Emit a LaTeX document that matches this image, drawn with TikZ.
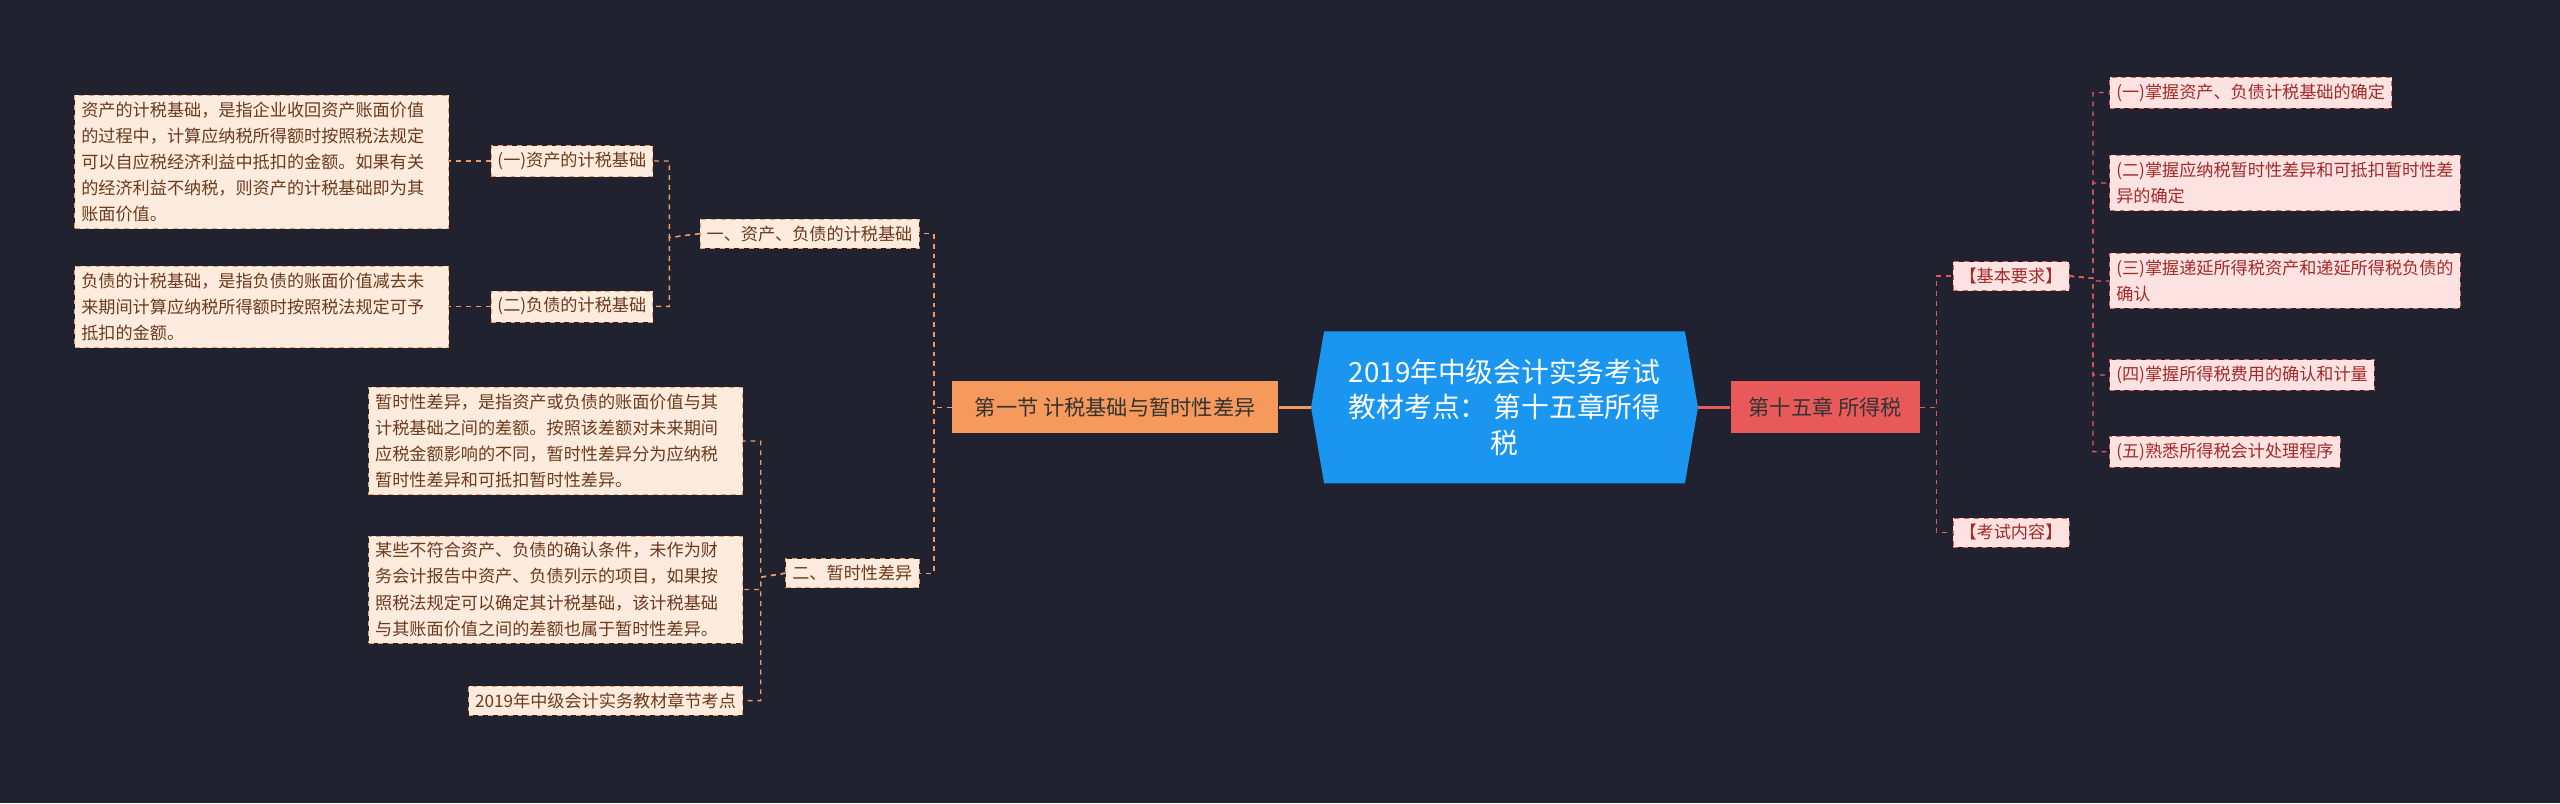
\documentclass[tikz,border=0pt]{standalone}
\usepackage{fontspec}
\setmainfont{Noto Sans CJK SC}
\begin{document}
\begin{tikzpicture}[x=1pt,y=-1pt,
 leaf/.style={draw=#1,dashed,fill=leaffill,text=leaftext,inner sep=4pt,anchor=north west,align=left,font=\fontsize{10.5}{16}\selectfont},
 rleaf/.style={draw=redline,dashed,fill=rfill,text=rtext,inner sep=4pt,anchor=north west,align=left,font=\fontsize{10.5}{16}\selectfont},
 oline/.style={draw=orangeline,dashed,line width=0.8pt},
 rline/.style={draw=redline,dashed,line width=0.8pt}]
\definecolor{bg}{HTML}{20232F}
\definecolor{leaffill}{HTML}{FDEBDD}
\definecolor{leaftext}{HTML}{6B3A1E}
\definecolor{orangeline}{HTML}{F59A5C}
\definecolor{redline}{HTML}{E85A5A}
\definecolor{rfill}{HTML}{FDE2E2}
\definecolor{rtext}{HTML}{A32A2A}
\fill[bg] (0,0) rectangle (1568,492);
\useasboundingbox (0,0) rectangle (1568,492);
% center
\fill[draw=none,fill={rgb,255:red,26;green,150;blue,240}] (803,249.5) -- (811,203) -- (1032,203) -- (1040,249.5) -- (1032,296) -- (811,296) -- cycle;
\node[text=white,align=center,font=\fontsize{17}{22}\selectfont] (c) at (921.5,249.5) {2019年中级会计实务考试\\教材考点： 第十五章所得\\税};
\coordinate (cl) at (803,249.5); \coordinate (cr) at (1040,249.5);
% main branches
\node[fill=orangeline,text=black!80,minimum width=200pt,minimum height=32pt,inner sep=2pt,font=\fontsize{13}{16}\selectfont] (L) at (683,249.5) {第一节 计税基础与暂时性差异};
\node[fill=redline,text=black!80,minimum width=116pt,minimum height=32pt,inner sep=2pt,font=\fontsize{13}{16}\selectfont] (R) at (1118,249.5) {第十五章 所得税};
\draw[draw=orangeline,line width=1.6pt] (cl) -- (L.east);
\draw[draw=redline,line width=1.6pt] (cr) -- (R.west);
% right side
\node[rleaf] (k1) at (1196,160) {【基本要求】};
\node[rleaf] (k2) at (1196,317) {【考试内容】};
\foreach \n in {k1,k2} \draw[rline] (R.east) -- (1186,249.5) |- (\n.west);
\node[rleaf] (r1) at (1292,47) {(一)掌握资产、负债计税基础的确定};
\node[rleaf] (r2) at (1292,95) {(二)掌握应纳税暂时性差异和可抵扣暂时性差\\异的确定};
\node[rleaf] (r3) at (1292,155) {(三)掌握递延所得税资产和递延所得税负债的\\确认};
\node[rleaf] (r4) at (1292,220) {(四)掌握所得税费用的确认和计量};
\node[rleaf] (r5) at (1292,267) {(五)熟悉所得税会计处理程序};
\foreach \n in {r1,r2,r3,r4,r5} \draw[rline] (k1.east) -- (1282,170.5) |- (\n.west);
% left side
\node[leaf=orangeline,anchor=north east] (a) at (563,134) {一、资产、负债的计税基础};
\node[leaf=orangeline,anchor=north east] (b) at (563,342) {二、暂时性差异};
\foreach \n in {a,b} \draw[oline] (L.west) -- (572,249.5) |- (\n.east);
\node[leaf=orangeline,anchor=north east] (a1) at (400,89) {(一)资产的计税基础};
\node[leaf=orangeline,anchor=north east] (a2) at (400,178) {(二)负债的计税基础};
\foreach \n in {a1,a2} \draw[oline] (a.west) -- (410,145.5) |- (\n.east);
\node[leaf=orangeline,anchor=north east,text width=221pt] (a1t) at (275,58) {资产的计税基础，是指企业收回资产账面价值\\的过程中，计算应纳税所得额时按照税法规定\\可以自应税经济利益中抵扣的金额。如果有关\\的经济利益不纳税，则资产的计税基础即为其\\账面价值。};
\node[leaf=orangeline,anchor=north east,text width=221pt] (a2t) at (275,163) {负债的计税基础，是指负债的账面价值减去未\\来期间计算应纳税所得额时按照税法规定可予\\抵扣的金额。};
\draw[oline] (a1.west) -- (a1t.east |- a1.west);
\draw[oline] (a2.west) -- (a2t.east |- a2.west);
\node[leaf=orangeline,anchor=north east,text width=221pt] (b1) at (455,237) {暂时性差异，是指资产或负债的账面价值与其\\计税基础之间的差额。按照该差额对未来期间\\应税金额影响的不同，暂时性差异分为应纳税\\暂时性差异和可抵扣暂时性差异。};
\node[leaf=orangeline,anchor=north east,text width=221pt] (b2) at (455,328) {某些不符合资产、负债的确认条件，未作为财\\务会计报告中资产、负债列示的项目，如果按\\照税法规定可以确定其计税基础，该计税基础\\与其账面价值之间的差额也属于暂时性差异。};
\node[leaf=orangeline,anchor=north east] (b3) at (455,420) {2019年中级会计实务教材章节考点};
\foreach \n in {b1,b2,b3} \draw[oline] (b.west) -- (466,353.5) |- (\n.east);
\end{tikzpicture}
\end{document}
